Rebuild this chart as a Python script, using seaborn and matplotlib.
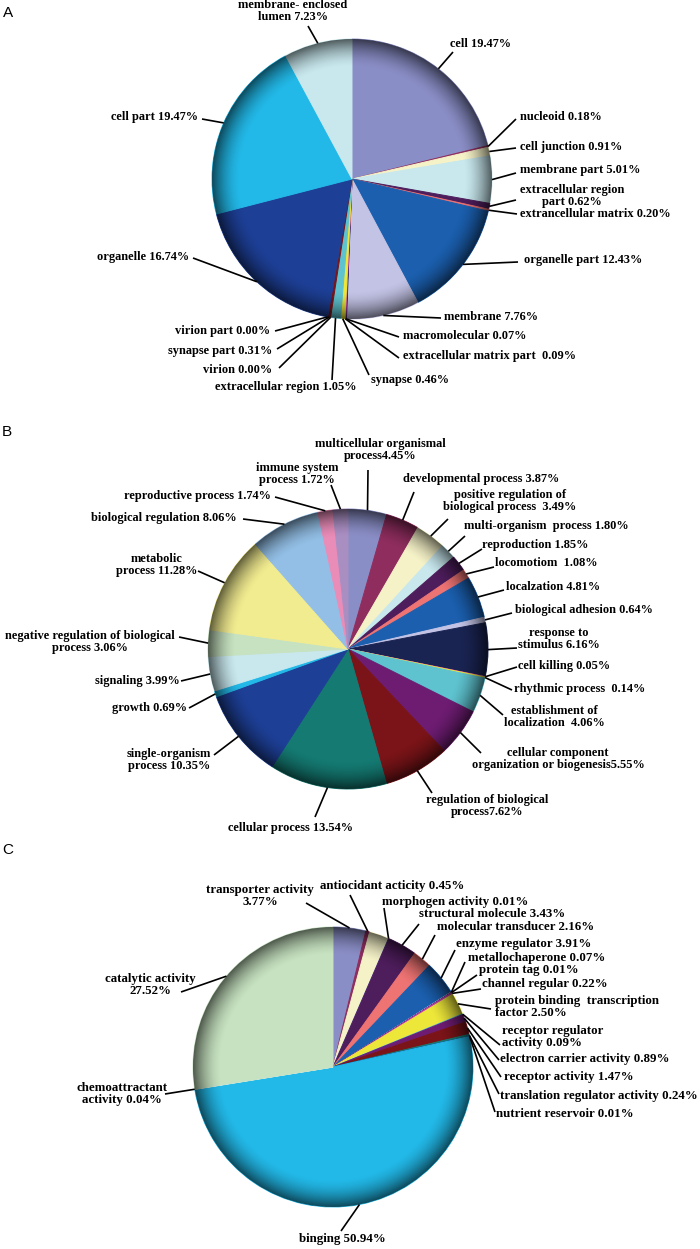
import numpy as np
import matplotlib
matplotlib.use("Agg")
import matplotlib.pyplot as plt
import seaborn as sns
from matplotlib.patches import Circle

sns.set_theme(style="white")
plt.rcParams['font.family'] = ['Liberation Serif', 'DejaVu Serif']

W, H = 700, 1249

# ---------------- data ----------------
# A: cellular component (clockwise from 12 o'clock)
cc_names = ["cell ", "nucleoid ", "cell junction ", "membrane part ",
            "extracellular region\npart ", "extrancellular matrix ",
            "organelle part ", "membrane ", "macromolecular ",
            "extracellular matrix part  ", "synapse ", "extracellular region ",
            "virion ", "synapse part ", "virion part ", "organelle ",
            "cell part ", "membrane- enclosed\nlumen "]
cc_values = [19.47, 0.18, 0.91, 5.01, 0.62, 0.20, 12.43, 7.76, 0.07, 0.09,
             0.46, 1.05, 0.00, 0.31, 0.00, 16.74, 19.47, 7.23]

# B: biological process
bp_names = ["multicellular organismal\nprocess", "developmental process ",
            "positive regulation of\nbiological process  ",
            "multi-organism  process ", "reproduction ", "locomotiom  ",
            "localzation ", "biological adhesion ", "response to\nstimulus ",
            "cell killing ", "rhythmic process  ", "establishment of\nlocalization  ",
            "cellular component\norganization or biogenesis",
            "regulation of biological\nprocess", "cellular process ",
            "single-organism\nprocess ", "growth ", "signaling ",
            "negative regulation of biological\nprocess ", "metabolic\nprocess ",
            "biological regulation ", "reproductive process ", "immune system\nprocess "]
bp_values = [4.45, 3.87, 3.49, 1.80, 1.85, 1.08, 4.81, 0.64, 6.16, 0.05, 0.14,
             4.06, 5.55, 7.62, 13.54, 10.35, 0.69, 3.99, 3.06, 11.28, 8.06,
             1.74, 1.72]

# C: molecular function (one unlabeled slice)
mf_names = ["transporter activity\n", "antiocidant acticity ", None,
            "morphogen activity ", "structural molecule ", "molecular transducer ",
            "enzyme regulator ", "metallochaperone ", "protein tag ",
            "channel regular ", "protein binding  transcription\nfactor ",
            "receptor regulator\nactivity ", "electron carrier activity ",
            "receptor activity ", "translation regulator activity ",
            "nutrient reservoir ", "binging ", "chemoattractant\nactivity ",
            "catalytic activity\n"]
mf_values = [3.77, 0.45, 2.27, 0.01, 3.43, 2.16, 3.91, 0.07, 0.01, 0.22, 2.50,
             0.09, 0.89, 1.47, 0.24, 0.01, 50.94, 0.04, 27.52]

palette = sns.color_palette([
    "#8A8EC6", "#8E2D5E", "#F5F2C8", "#C8E8EE", "#4E1D5C", "#EE7373",
    "#1B5FAE", "#C3C3E6", "#1A2452", "#C040B0", "#EDE73A", "#5EC3CF",
    "#6E1C72", "#7A1418", "#147A72", "#1D3F96", "#22B9E8", "#C8E8EE",
    "#C6E2C0", "#F2EC90", "#93BFE6", "#E98CB8", "#A98EC2"])

# ---------------- layout (pixel coords) ----------------
pieA = dict(center=(352, 179), r=140)
pieB = dict(center=(348, 649), r=140)
pieC = dict(center=(333, 1067), r=140)

# (text x, text y, ha, line end x, line end y)
layA = [(450, 44, 'left', 453, 52), (520, 117, 'left', 516, 119),
        (520, 147, 'left', 516, 148), (520, 170, 'left', 516, 173),
        (572, 196, 'center', 516, 200), (520, 214, 'left', 517, 214),
        (524, 260, 'left', 518, 262), (444, 317, 'left', 441, 318),
        (403, 336, 'left', 399, 337), (403, 356, 'left', 399, 358),
        (371, 380, 'left', 369, 375), (286, 387, 'center', 332, 380),
        (272, 370, 'right', 279, 368), (272, 351, 'right', 277, 349),
        (270, 331, 'right', 275, 331), (189, 257, 'right', 193, 258),
        (198, 117, 'right', 202, 119), (293, 11, 'center', 308, 26)]
layB = [(380, 450, 'center', 368, 470), (403, 479, 'left', 414, 492),
        (510, 501, 'center', 448, 519), (464, 526, 'left', 465, 536),
        (482, 545, 'left', 482, 549), (495, 563, 'left', 494, 567),
        (506, 587, 'left', 504, 590), (515, 610, 'left', 512, 613),
        (559, 639, 'center', 517, 648), (518, 666, 'left', 517, 667),
        (514, 689, 'left', 512, 690), (554, 717, 'center', 503, 715),
        (558, 759, 'center', 481, 753), (487, 806, 'center', 432, 793),
        (290, 828, 'center', 315, 817), (169, 760, 'center', 214, 755),
        (187, 708, 'right', 189, 708), (180, 681, 'right', 181, 681),
        (90, 642, 'center', 179, 637), (157, 565, 'center', 198, 571),
        (237, 518, 'right', 243, 519), (271, 496, 'right', 275, 497),
        (297, 474, 'center', 331, 485)]
layC = [(260, 896, 'center', 306, 903), (320, 886, 'left', 350, 895), None,
        (382, 902, 'left', 384, 908), (419, 914, 'left', 419, 924),
        (437, 927, 'left', 435, 935), (456, 944, 'left', 455, 950),
        (468, 958, 'left', 465, 962), (479, 970, 'left', 477, 975),
        (482, 984, 'left', 481, 989), (495, 1007, 'left', 491, 1009),
        (502, 1037, 'left', 500, 1045), (500, 1059, 'left', 499, 1060),
        (504, 1077, 'left', 501, 1077), (500, 1096, 'left', 499, 1094),
        (496, 1114, 'left', 495, 1112), (342, 1239, 'center', 341, 1231),
        (122, 1094, 'center', 165, 1094), (150, 985, 'center', 181, 992)]

fig = plt.figure(figsize=(W / 100, H / 100), dpi=100)
ax = fig.add_axes([0, 0, 1, 1])


def shade(cx, cy, r):
    n = 400
    g = np.linspace(-1, 1, n)
    X, Y = np.meshgrid(g, g)
    D = np.sqrt(X ** 2 + Y ** 2)
    a = np.clip((D - 0.80) / 0.20, 0, 1) ** 1.7 * 0.6
    img = np.zeros((n, n, 4))
    img[..., 3] = a
    im = ax.imshow(img, extent=(cx - r, cx + r, cy + r, cy - r), zorder=3,
                   interpolation='bilinear')
    circ = Circle((cx, cy), r, transform=ax.transData, facecolor='none',
                  edgecolor='none')
    ax.add_patch(circ)
    im.set_clip_path(circ)


def draw_pie(names, values, spec, layout, fs, ls):
    cx, cy = spec['center']
    r = spec['r']
    cols = palette[:len(values)]
    wedges, _ = ax.pie(values, colors=cols, startangle=-90, counterclock=True,
                       center=(cx, cy), radius=r,
                       wedgeprops=dict(linewidth=0.7))
    for w, v in zip(wedges, values):
        w.set_edgecolor(w.get_facecolor())
        if v <= 0:
            w.set_linewidth(0)
    shade(cx, cy, r)
    for w, name, v, lay in zip(wedges, names, values, layout):
        if name is None:
            continue
        tx, ty, ha, lx, ly = lay
        mid = np.deg2rad((w.theta1 + w.theta2) / 2)
        px, py = cx + r * np.cos(mid), cy + r * np.sin(mid)
        ax.plot([px, lx], [py, ly], color='black', lw=1.2, zorder=4,
                solid_capstyle='butt')
        ax.text(tx, ty, f"{name}{v:.2f}%", ha=ha, va='center',
                multialignment=ha, fontsize=fs, fontweight='bold',
                linespacing=ls, color='black', zorder=5)


draw_pie(cc_names, cc_values, pieA, layA, 8.9, 0.92)
draw_pie(bp_names, bp_values, pieB, layB, 8.9, 0.92)
draw_pie(mf_names, mf_values, pieC, layC, 9.3, 1.1)

for letter, (x, y) in zip(["A", "B", "C"], [(3, 13), (2, 432), (2, 850)]):
    ax.text(x, y, letter, ha='left', va='center', fontsize=11,
            family=['Liberation Sans', 'DejaVu Sans'], color='black')

ax.set_xlim(0, W)
ax.set_ylim(H, 0)
ax.set_aspect('auto')
ax.axis('off')
fig.savefig("out.png", dpi=100, facecolor='white')
